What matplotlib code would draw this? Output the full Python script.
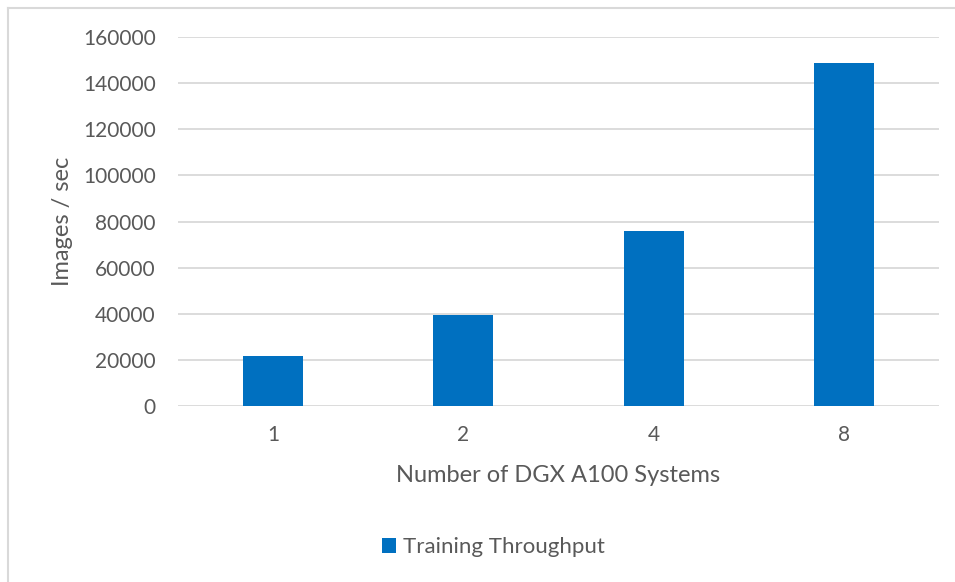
import matplotlib.pyplot as plt
from matplotlib.lines import Line2D

# Datos del grafico
systems = ["1", "2", "4", "8"]
throughput = [21500, 39300, 76000, 148700]
y_ticks = [0, 20000, 40000, 60000, 80000, 100000, 120000, 140000, 160000]
series_name = "Training Throughput"

plt.rcParams['font.family'] = ['Lato', 'DejaVu Sans']
gray = '#595959'

fig = plt.figure(figsize=(9.55, 5.82), dpi=100)
ax = fig.add_axes([178/955, 1 - 406/582, 761/955, 369/582])

ax.bar(systems, throughput, width=0.315, color='#0070C0', label=series_name, zorder=3)
ax.set_xlim(-0.5, 3.5)
ax.set_ylim(0, 160000)
ax.set_yticks(y_ticks)
ax.yaxis.grid(True, color='#d9d9d9', linewidth=1.3, zorder=0)
for s in ax.spines.values():
    s.set_visible(False)
ax.tick_params(length=0, labelsize=15, colors=gray)
ax.tick_params(axis='y', pad=16)
ax.tick_params(axis='x', pad=14)

ax.set_xlabel("Number of DGX A100 Systems", fontsize=17, color=gray, labelpad=14)
ax.set_ylabel("Images / sec", fontsize=17, color=gray, labelpad=7)

leg = fig.legend(loc='center', bbox_to_anchor=(493/955, 1 - 547/582), frameon=False,
                 fontsize=16, handlelength=0.65, handleheight=0.65, handletextpad=0.3)
for t in leg.get_texts():
    t.set_color(gray)

# marco exterior (solo se ven los bordes superior e izquierdo)
fig.lines.append(Line2D([8/955, 1], [1 - 8/582, 1 - 8/582], transform=fig.transFigure,
                        color='#d9d9d9', linewidth=1.5))
fig.lines.append(Line2D([8/955, 8/955], [0, 1 - 8/582], transform=fig.transFigure,
                        color='#d9d9d9', linewidth=1.5))

fig.savefig("out.png", dpi=100)
